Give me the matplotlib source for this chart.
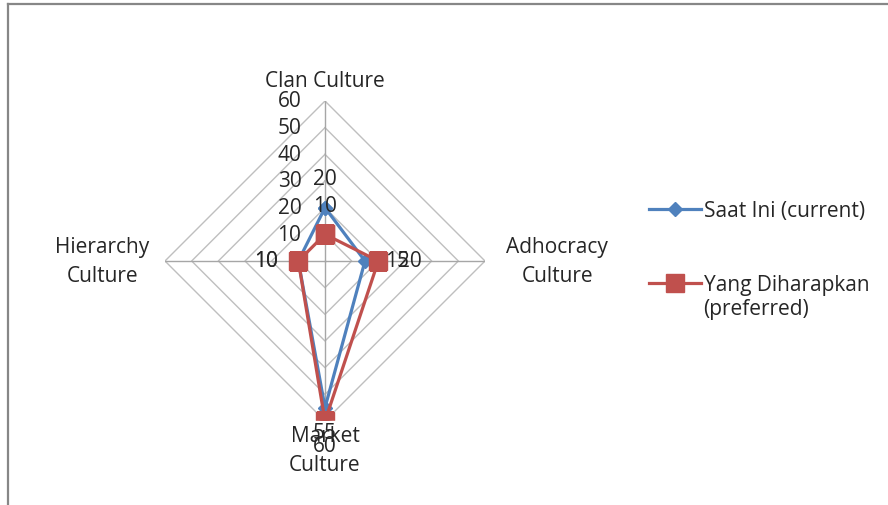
import numpy as np
import matplotlib
matplotlib.use("Agg")
import matplotlib.pyplot as plt
from matplotlib.lines import Line2D
from matplotlib.text import Annotation

plt.rcParams['font.family'] = ['Open Sans', 'DejaVu Sans']

categories = ["Clan Culture", "Adhocracy\nCulture", "Market\nCulture", "Hierarchy\nCulture"]
saat_ini = [20, 15, 55, 10]
diharapkan = [10, 20, 60, 10]
series_names = ["Saat Ini (current)", "Yang Diharapkan"]
series_note = "(preferred)"
r_ticks = [0, 10, 20, 30, 40, 50, 60]

BLUE = "#4F81BD"
RED = "#C0504D"
GRID = "#BFBFBF"
TXT = "#262626"
FS = 15

W, H = 888, 506
fig = plt.figure(figsize=(W / 100, H / 100), dpi=100)

cx, cy, R = 325, 262, 160
ax = fig.add_axes([(cx - R) / W, (H - cy - R) / H, 2 * R / W, 2 * R / H], projection='polar')
ax.set_theta_zero_location('N')
ax.set_theta_direction(-1)
ax.set_ylim(0, r_ticks[-1])
ax.grid(False)
ax.set_xticks([])
ax.set_yticks([])
ax.spines['polar'].set_visible(False)
ax.patch.set_alpha(0)

n = len(categories)
theta = np.arange(n) * 2 * np.pi / n
theta_closed = np.append(theta, theta[0])

# diamond gridlines and spokes
for v in r_ticks[1:]:
    ax.plot(theta_closed, [v] * (n + 1), color=GRID, lw=1.0, zorder=1)
for t in theta:
    ax.plot([t, t], [0, r_ticks[-1]], color="#A6A6A6", lw=1.0, zorder=1)

# radial tick labels along the top spoke
for v in r_ticks:
    ax.annotate(str(v), xy=(0, v), xytext=(-17, 0), textcoords='offset points',
                ha='right', va='center', fontsize=FS, color=TXT,
                annotation_clip=False, zorder=2)

# category labels
cat_offsets = [(0, 15), (52, 0), (0, -21), (-45, 0)]
for t, lab, off in zip(theta, categories, cat_offsets):
    ax.annotate(lab, xy=(t, r_ticks[-1]), xytext=off, textcoords='offset points',
                ha='center', va='center', fontsize=FS, color=TXT,
                linespacing=1.5, annotation_clip=False)

# series
ax.plot(theta_closed, saat_ini + saat_ini[:1], color=BLUE, lw=2.3,
        marker='D', markersize=7, zorder=4, label=series_names[0])
ax.plot(theta_closed, diharapkan + diharapkan[:1], color=RED, lw=2.3,
        marker='s', markersize=12.5, zorder=5, label=series_names[1])

# data labels
lab_offsets = [(0, 21), (23, 0), (0, -18), (-23, 0)]
for vals in (saat_ini, diharapkan):
    for t, v, off in zip(theta, vals, lab_offsets):
        ax.annotate(str(v), xy=(t, v), xytext=off, textcoords='offset points',
                    ha='center', va='center', fontsize=FS, color=TXT,
                    annotation_clip=False, zorder=6)

leg = fig.legend(loc='upper left', bbox_to_anchor=(649 / W, 1 - 201 / H),
                 frameon=False, fontsize=FS, handlelength=2.5, handletextpad=0.12,
                 labelspacing=2.55, borderaxespad=0, borderpad=0)
for txt in leg.get_texts():
    txt.set_color(TXT)
# second line of the preferred-series label, drawn after the legend
note = Annotation(series_note, xy=(0, 0), xycoords=leg.get_texts()[1], xytext=(0, -2),
                  textcoords='offset points', ha='left', va='top', fontsize=FS, color=TXT)
note.set_zorder(10)
fig.add_artist(note)

# chart frame edges
fig.add_artist(Line2D([8 / W, 8 / W], [0, 1 - 5 / H], color="#878787", lw=1.6))
fig.add_artist(Line2D([8 / W, 1], [1 - 5 / H, 1 - 5 / H], color="#878787", lw=1.6))

fig.savefig("out.png", dpi=100)
